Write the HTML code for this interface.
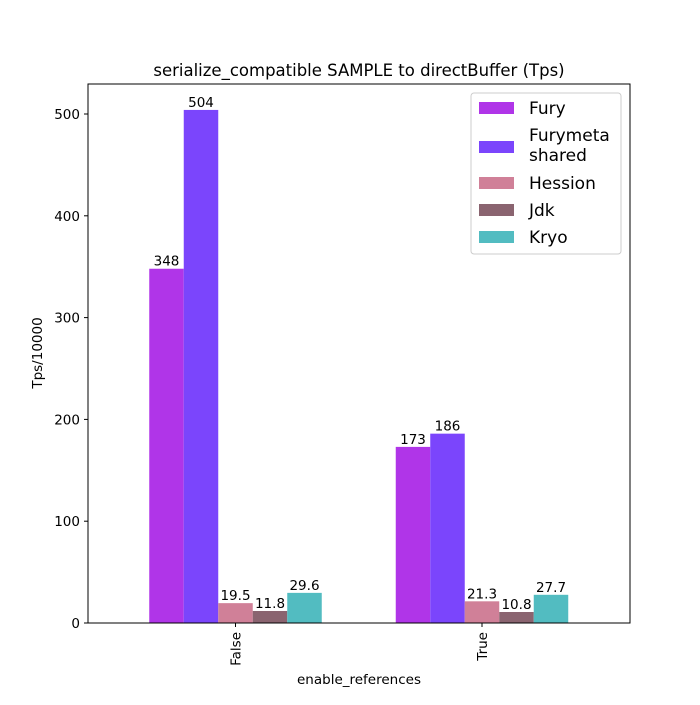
<!DOCTYPE html>
<html><head><meta charset="utf-8"><style>
html,body{margin:0;padding:0;background:#fff;}
svg text{font-family:"DejaVu Sans","Liberation Sans",sans-serif;}
</style></head><body>
<svg id="chart" width="700" height="700" xmlns="http://www.w3.org/2000/svg">
<rect width="700" height="700" fill="#fff"/>
<text x="359" y="76" font-size="16.5" text-anchor="middle">serialize_compatible SAMPLE to directBuffer (Tps)</text>
<g id="bars"></g>
<g id="yticks"></g>
<g id="xticks"></g>
<rect x="88" y="84" width="542" height="539" fill="none" stroke="#000" stroke-width="1"/>
<text transform="translate(42,353) rotate(-90)" font-size="13.5" text-anchor="middle">Tps/10000</text>
<text x="359" y="684" font-size="13.5" text-anchor="middle">enable_references</text>
<g id="legend">
<rect x="471" y="93" width="150" height="161" rx="3" fill="#fff" stroke="#ccc"/>
</g>
</svg>
<script>
const categories = ["False", "True"];
const seriesNames = ["Fury", "Furymeta\nshared", "Hession", "Jdk", "Kryo"];
const fury = [348, 173];
const furymeta = [504, 186];
const hession = [19.5, 21.3];
const jdk = [11.8, 10.8];
const kryo = [29.6, 27.7];
const yTicks = [0, 100, 200, 300, 400, 500];
const labels = [["348","173"],["504","186"],["19.5","21.3"],["11.8","10.8"],["29.6","27.7"]];
const colors = ["#b035e8", "#7b45fc", "#d08098", "#8a6470", "#52bcc1"];
const series = [fury, furymeta, hession, jdk, kryo];

const NS = "http://www.w3.org/2000/svg";
const y = v => 623 - v * 1.018;
const xc = i => 235.5 + 246.5 * i;
const bw = 34.5;
function mk(tag, attrs, parent, text) {
  const e = document.createElementNS(NS, tag);
  for (const k in attrs) e.setAttribute(k, attrs[k]);
  if (text !== undefined) e.textContent = text;
  parent.appendChild(e);
  return e;
}
const bars = document.getElementById("bars");
series.forEach((s, si) => {
  s.forEach((v, ci) => {
    const x0 = xc(ci) - 2.5 * bw + si * bw;
    const r = mk("rect", {x: x0, y: y(v), width: bw, height: 623 - y(v), fill: colors[si]}, bars);
    
    
    const t = mk("text", {x: x0 + bw / 2, y: y(v) - 3, "font-size": 13.5, "text-anchor": "middle"}, bars, labels[si][ci]);
    
    
  });
});
const yt = document.getElementById("yticks");
yTicks.forEach(v => {
  const l = mk("line", {x1: 84, x2: 88, y1: y(v), y2: y(v), stroke: "#000"}, yt);
  
  
  const t = mk("text", {x: 80, y: y(v) + 5, "font-size": 13.5, "text-anchor": "end"}, yt, String(v));
  
  
});
const xt = document.getElementById("xticks");
categories.forEach((c, i) => {
  const l = mk("line", {x1: xc(i), x2: xc(i), y1: 623, y2: 627, stroke: "#000"}, xt);
  
  
  const t = mk("text", {transform: `translate(${xc(i) + 5},632) rotate(-90)`, "font-size": 13.5, "text-anchor": "end"}, xt, c);
  
  
});
const lg = document.getElementById("legend");
const rows = [108, 147, 183, 210, 237];
seriesNames.forEach((n, i) => {
  const r = mk("rect", {x: 479, y: rows[i] - 6, width: 35, height: 12, fill: colors[i]}, lg);
  
  
  const parts = n.split("\n");
  const t = mk("text", {x: 529, y: (i === 1 ? 141 : rows[i] + 6), "font-size": 17}, lg);
  
  
  parts.forEach((p, pi) => mk("tspan", {x: 529, dy: pi === 0 ? 0 : 20}, t, p));
});
</script>
</body></html>
